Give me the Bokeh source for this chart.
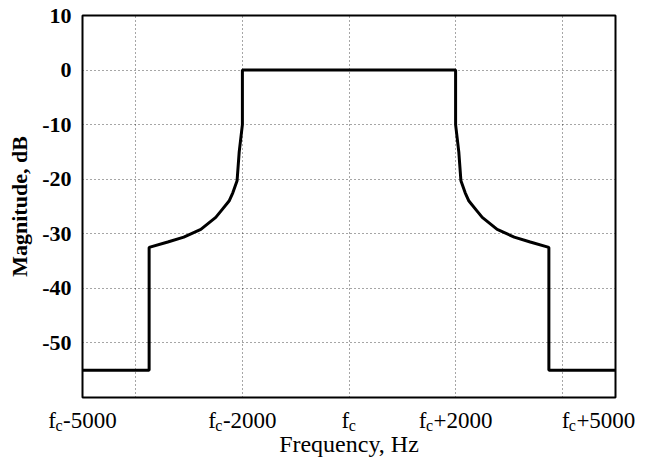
from bokeh.plotting import figure
from bokeh.models import Range1d, FixedTicker, ColumnDataSource
from bokeh.core.properties import value
from bokeh.embed import file_html
from bokeh.resources import INLINE

# ---- data ----
freq_hz = [-5000, -3750, -3750, -3400, -3100, -2780, -2500, -2400, -2250, -2180,
           -2100, -2060, -2000, -2000, 2000, 2000, 2060, 2100, 2180, 2250,
           2400, 2500, 2780, 3100, 3400, 3750, 3750, 5000]
magnitude_db = [-55, -55, -32.5, -31.5, -30.6, -29.2, -27.0, -25.8, -24.0, -22.5,
                -20.3, -15.0, -10.0, 0, 0, -10.0, -15.0, -20.3, -22.5, -24.0,
                -25.8, -27.0, -29.2, -30.6, -31.5, -32.5, -55, -55]

xtick_values = [-5000, -2000, 0, 2000, 5000]
xtick_suffix = ["-5000", "-2000", "", "+2000", "+5000"]
xtick_shift_px = [0, 0, 0, 0, -17]
xgrid_values = [-4000, -2000, 0, 2000, 4000]
ytick_values = [10, 0, -10, -20, -30, -40, -50]
ygrid_values = [0, -10, -20, -30, -40, -50]

FONT = "Liberation Serif"
MAIN_PX = 23
SUB_PX = 16
# Liberation Serif (Times metrics) advance widths in em
W = {"f": 0.333, "c": 0.444, "-": 0.333, "+": 0.564}
for d in "0123456789":
    W[d] = 0.5


def text_width(s, size):
    return sum(W.get(ch, 0.5) for ch in s) * size


p = figure(width=649, height=459, output_backend="svg", toolbar_location=None,
           x_range=Range1d(-5000, 5000), y_range=Range1d(-60, 10),
           min_border_left=82, min_border_right=34, min_border_top=15,
           min_border_bottom=62)
p.background_fill_color = "white"
p.border_fill_color = "white"
p.outline_line_color = "black"
p.outline_line_width = 2

# grids
p.xgrid.ticker = FixedTicker(ticks=xgrid_values)
p.ygrid.ticker = FixedTicker(ticks=ygrid_values)
for g in (p.xgrid, p.ygrid):
    g.grid_line_color = "black"
    g.grid_line_alpha = 0.7
    g.grid_line_dash = "1 3"
    g.grid_line_width = 1

p.line(freq_hz, magnitude_db, line_width=3, color="black")

# x axis (tick labels drawn below as f + subscript c + suffix)
p.xaxis.ticker = FixedTicker(ticks=xtick_values)
p.xaxis.major_label_overrides = {v: "" for v in xtick_values}
p.xaxis.axis_label = "Frequency, Hz"
p.xaxis.axis_label_text_font = FONT
p.xaxis.axis_label_text_font_size = "24px"
p.xaxis.axis_label_text_font_style = "normal"
p.xaxis.axis_label_text_color = "black"
p.xaxis.axis_label_standoff = 33

# y axis
p.yaxis.ticker = FixedTicker(ticks=ytick_values)
p.yaxis.major_label_overrides = {v: str(v) for v in ytick_values}
p.yaxis.major_label_text_font = FONT
p.yaxis.major_label_text_font_size = "22px"
p.yaxis.major_label_text_font_style = "bold"
p.yaxis.major_label_text_color = "black"
p.yaxis.major_label_standoff = 11
p.yaxis.axis_label = "Magnitude, dB"
p.yaxis.axis_label_text_font = FONT
p.yaxis.axis_label_text_font_size = "22px"
p.yaxis.axis_label_text_font_style = "bold"
p.yaxis.axis_label_text_color = "black"
p.yaxis.axis_label_standoff = 7

for ax in (p.xaxis, p.yaxis):
    ax.axis_line_color = None
    ax.major_tick_line_color = None
    ax.minor_tick_line_color = None
    ax.major_tick_out = 0
    ax.major_tick_in = 0
    ax.minor_tick_out = 0
    ax.minor_tick_in = 0

# x tick labels "f_c..." as text pieces anchored on the tick values
y_bottom = p.y_range.start
f_off, c_off, s_off = [], [], []
for suf, sh in zip(xtick_suffix, xtick_shift_px):
    wf = text_width("f", MAIN_PX)
    wc = text_width("c", SUB_PX)
    ws = text_width(suf, MAIN_PX)
    left = -(wf + wc + ws) / 2 + sh
    f_off.append(left)
    c_off.append(left + wf - 0.5)
    s_off.append(left + wf + wc)

lab_src = ColumnDataSource(dict(
    x=xtick_values, y=[y_bottom] * len(xtick_values),
    f=["f"] * len(xtick_values), c=["c"] * len(xtick_values), s=xtick_suffix,
    fo=f_off, co=c_off, so=s_off))

common = dict(source=lab_src, level="overlay", text_font=value(FONT),
              text_color="black", text_align="left", text_baseline="alphabetic")
p.text(x="x", y="y", text="f", x_offset="fo", y_offset=23,
       text_font_size=f"{MAIN_PX}px", **common)
p.text(x="x", y="y", text="c", x_offset="co", y_offset=28,
       text_font_size=f"{SUB_PX}px", **common)
p.text(x="x", y="y", text="s", x_offset="so", y_offset=23,
       text_font_size=f"{MAIN_PX}px", **common)

open("out.html", "w").write(file_html(p, INLINE))
